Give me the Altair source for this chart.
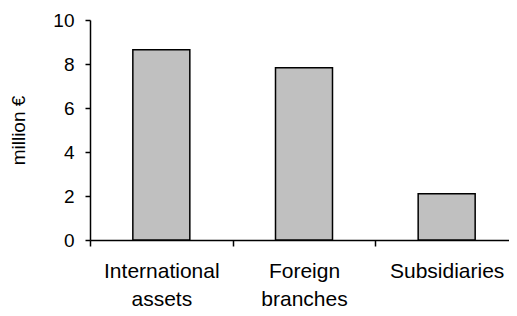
import altair as alt
import pandas as pd

categories = ["International assets", "Foreign branches", "Subsidiaries"]
values = [8.65, 7.83, 2.1]
y_ticks = [0, 2, 4, 6, 8, 10]

df = pd.DataFrame({"category": categories, "value": values})

FONT = "Liberation Sans"

chart = alt.Chart(df).mark_bar(
    size=57, fill="#c0c0c0", stroke="black", strokeWidth=1.5
).encode(
    x=alt.X(
        "category:N", sort=categories, title=None,
        scale=alt.Scale(paddingInner=0, paddingOuter=0, range=[0, 428]),
        axis=alt.Axis(
            labelAngle=0, tickBand="extent",
            labelExpr="split(datum.label, ' ')",
            labelLineHeight=28, tickSize=6, labelPadding=14,
            labelFontSize=21, labelFont=FONT, labelColor="black",
            domainColor="black", domainWidth=1.5,
            tickColor="black", tickWidth=1.5, labelOverlap=False,
        ),
    ),
    y=alt.Y(
        "value:Q", scale=alt.Scale(domain=[0, 10]),
        axis=alt.Axis(
            values=y_ticks, title="million €", grid=False,
            tickSize=5, labelPadding=11, labelFontSize=19, labelFont=FONT,
            labelColor="black", domainColor="black", domainWidth=1.5,
            tickColor="black", tickWidth=1.5,
            titleFont=FONT, titleFontSize=19, titleFontWeight="normal",
            titleColor="black", titlePadding=24,
        ),
    ),
).properties(
    width=419, height=220,
    autosize=alt.AutoSizeParams(type="none"),
    padding={"left": 82, "top": 12, "right": 0, "bottom": 68},
).configure_view(stroke=None)

chart.save("out.html", embed_options={"renderer": "svg", "actions": False})
